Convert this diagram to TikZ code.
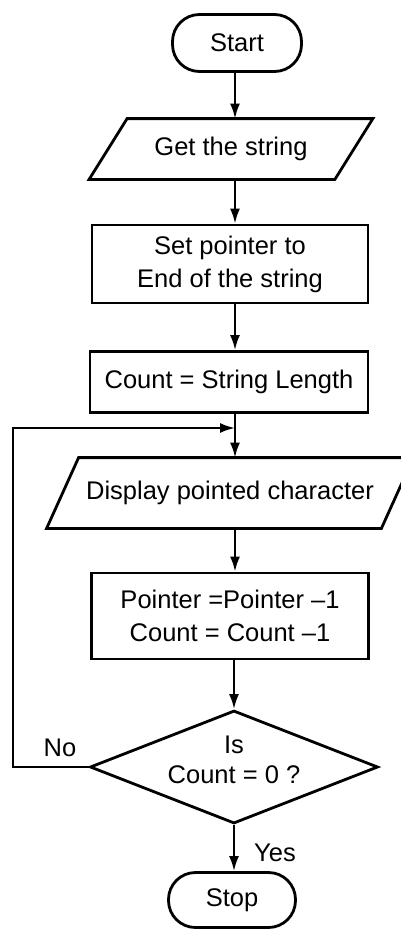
\documentclass[tikz,border=0pt]{standalone}
\usepackage{fontspec}
\setmainfont{Liberation Sans}
\usetikzlibrary{shapes.geometric,arrows.meta}
\tikzset{
  base/.style={draw, line width=2.8pt, font=\fontsize{25.5}{33}\selectfont, align=center, inner sep=0pt},
  term/.style={base, rectangle, rounded corners=27pt},
  proc/.style={base, rectangle},
  iobody/.style={base, draw=none, rectangle},
  ioline/.style={line width=2.8pt, line join=miter},
  dec/.style={base, diamond, aspect=2.55},
  arr/.style={line width=2.2pt, -{Latex[length=15pt,width=10pt]}},
  lbl/.style={font=\fontsize{25.5}{30}\selectfont, inner sep=0pt, align=center}
}
\begin{document}
\begin{tikzpicture}[x=1pt,y=-1pt]
\useasboundingbox (0,0) rectangle (401,930);
\node[term, minimum width=129pt, minimum height=57pt] (start) at (237,43) {Start};
\node[iobody, minimum width=243pt, minimum height=58pt] (get) at (231,149) {Get the string};
\draw[ioline] ([xshift=-19pt]get.south west) -- ([xshift=-19pt]get.south east)
  -- ([xshift=19pt]get.north east) -- ([xshift=19pt]get.north west) -- cycle;
\node[proc, minimum width=276pt, minimum height=78pt] (set) at (230,264) {Set pointer to\\End of the string};
\node[proc, minimum width=278pt, minimum height=61pt] (cnt) at (229,382) {Count = String Length};
\node[iobody, minimum width=332pt, minimum height=68pt] (disp) at (230,493) {Display pointed character};
\draw[ioline] ([xshift=-16pt]disp.south west) -- ([xshift=-16pt]disp.south east)
  -- ([xshift=16pt]disp.north east) -- ([xshift=16pt]disp.north west) -- cycle;
\node[proc, minimum width=277pt, minimum height=86pt] (ptr) at (230,616) {Pointer =Pointer --1\\Count = Count --1};
\node[dec, minimum width=288pt, minimum height=113pt] (dec) at (234,767) {};
\node[lbl] (dect) at ([yshift=7pt]dec.center) {Is\\Count = 0 ?};
\node[term, minimum width=127pt, minimum height=55pt] (stop) at (232,900) {Stop};
\node[lbl] (no) at (60,748) {No};
\node[lbl] (yes) at (275,853) {Yes};
\coordinate (ax) at (235,0);
\coordinate (j) at (235,428);
\coordinate (lc) at (13,767);
\coordinate (lt) at (13,428);
\draw[arr] (start.south -| ax) -- (get.north -| ax);
\draw[arr] (get.south -| ax) -- (set.north -| ax);
\draw[arr] (set.south -| ax) -- (cnt.north -| ax);
\draw[arr] (cnt.south -| ax) -- (disp.north -| ax);
\draw[arr] (disp.south -| ax) -- (ptr.north -| ax);
\draw[arr] (ptr.south -| dec.north) -- (dec.north);
\draw[arr] (dec.south) -- (stop.north -| dec.south);
\draw[arr] (dec.west) -- (lc) -- (lt) -- (j);
\end{tikzpicture}
\end{document}
